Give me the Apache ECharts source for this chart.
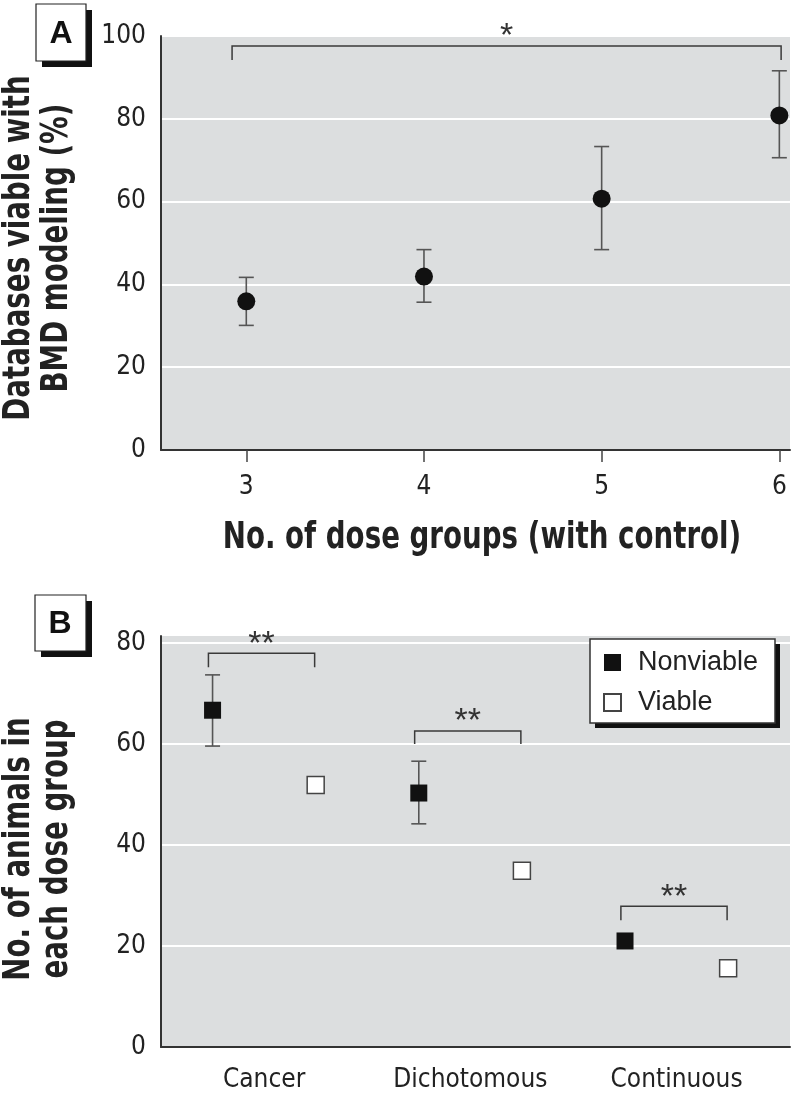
<!DOCTYPE html>
<html><head><meta charset="utf-8">
<script src="https://cdn.jsdelivr.net/npm/echarts@6/dist/echarts.min.js"></script>
<style>html,body{margin:0;padding:0;background:#fff}#c{width:800px;height:1097px}</style>
</head><body><div id="c"></div>
<script>
// ---------- Panel A data ----------
const doseGroups = [3, 4, 5, 6];
const viablePct = [35.9, 41.9, 60.7, 80.8];
const viablePctLow = [30.1, 35.7, 48.4, 70.6];
const viablePctHigh = [41.7, 48.4, 73.3, 91.6];
const aYTicks = [0, 20, 40, 60, 80, 100];
const aXTicks = [3, 4, 5, 6];
const sigA = [{ from: 2.92, to: 6.01, top: 97.6, leg: 94.2, mark: '*' }];
const titleAX = 'No. of dose groups (with control)';
const titleAY = 'Databases viable with\nBMD modeling (%)';

// ---------- Panel B data ----------
const endpointTypes = ['Cancer', 'Dichotomous', 'Continuous'];
const nonviableN = [66.7, 50.3, 21.0];
const nonviableLow = [59.6, 44.2, null];
const nonviableHigh = [73.7, 56.6, null];
const viableN = [51.9, 34.9, 15.6];
const bYTicks = [0, 20, 40, 60, 80];
const sigB = [
  { cat: 0, top: 78.0, leg: 75.2, mark: '**' },
  { cat: 1, top: 62.6, leg: 60.0, mark: '**' },
  { cat: 2, top: 27.9, leg: 25.1, mark: '**' }
];
const titleBY = 'No. of animals in\neach dose group';

// ---------- layout / style ----------
const NARROW = '"DejaVu Sans Condensed", "Liberation Sans Narrow", "Liberation Sans", sans-serif';
const REG = '"Liberation Sans", Arial, sans-serif';
const TXT = '#222';
const GREY = '#dcdedf';
const OFF = 0.25;                  // dodge of the two series within a category
const BR_L = -0.27, BR_R = 0.245;  // bracket ends relative to category
const TITLE_SCALE = 0.81;

const chart = echarts.init(document.getElementById('c'), null, { renderer: 'canvas' });

function errRender(params, api) {
  const x = api.value(0), lo = api.value(1), hi = api.value(2);
  if (lo == null || hi == null || isNaN(lo) || isNaN(hi)) return;
  const t = api.coord([x, hi]), b = api.coord([x, lo]);
  const w = 7.5;
  const st = { stroke: '#555', lineWidth: 1.6 };
  return { type: 'group', children: [
    { type: 'line', shape: { x1: t[0], y1: t[1], x2: b[0], y2: b[1] }, style: st },
    { type: 'line', shape: { x1: t[0] - w, y1: t[1], x2: t[0] + w, y2: t[1] }, style: st },
    { type: 'line', shape: { x1: b[0] - w, y1: b[1], x2: b[0] + w, y2: b[1] }, style: st }
  ]};
}
function bracketRender(params, api) {
  const x1 = api.value(0), x2 = api.value(1), top = api.value(2), leg = api.value(3);
  const mark = api.value(4);
  const a = api.coord([x1, leg]), b = api.coord([x1, top]), c = api.coord([x2, top]), d = api.coord([x2, leg]);
  return { type: 'group', children: [
    { type: 'polyline', shape: { points: [a, b, c, d] }, style: { stroke: '#3a3a3a', lineWidth: 1.5, fill: null } },
    { type: 'text', x: (b[0] + c[0]) / 2, y: b[1] - 9,
      style: { text: String(mark), fontSize: 34, fontFamily: REG, fill: '#333', align: 'center', verticalAlign: 'middle' } }
  ]};
}

function titleText(text, x, y, rotated) {
  return { type: 'text', x: x, y: y, rotation: rotated ? Math.PI / 2 : 0, scaleX: TITLE_SCALE,
    style: { text: text, fontSize: 38, lineHeight: 38, fontWeight: 'bold', fontFamily: NARROW, fill: TXT,
      align: 'center', verticalAlign: 'middle' } };
}

const option = {
  animation: false,
  backgroundColor: '#fff',
  grid: [
    { left: 161, top: 36, width: 629, height: 414, show: true, backgroundColor: GREY, borderWidth: 0, outerBoundsMode: 'none', containLabel: false },
    { left: 161, top: 636, width: 629, height: 411, show: true, backgroundColor: GREY, borderWidth: 0, outerBoundsMode: 'none', containLabel: false }
  ],
  xAxis: [
    { gridIndex: 0, type: 'value', min: 2.52, max: 6.06,
      axisLine: { show: true, onZero: false, lineStyle: { color: '#333', width: 2 } },
      axisTick: { show: true, length: 12, customValues: aXTicks, lineStyle: { color: '#444', width: 1.5 } },
      axisLabel: { customValues: aXTicks, fontSize: 26, fontFamily: NARROW, color: TXT, margin: 24 },
      splitLine: { show: false } },
    { gridIndex: 1, type: 'value', min: -0.5, max: 2.55,
      axisLine: { show: true, onZero: false, lineStyle: { color: '#333', width: 2 } },
      axisTick: { show: false, customValues: [0, 1, 2] },
      axisLabel: { customValues: [0, 1, 2], fontSize: 26, fontFamily: NARROW, color: TXT, margin: 20,
        formatter: v => endpointTypes[Math.round(v)] },
      splitLine: { show: false } }
  ],
  yAxis: [
    { gridIndex: 0, type: 'value', min: 0, max: 100, interval: 20,
      axisLine: { show: true, onZero: false, lineStyle: { color: '#333', width: 2 } },
      axisTick: { show: false },
      axisLabel: { fontSize: 26, fontFamily: NARROW, color: TXT, margin: 15 },
      splitLine: { show: true, lineStyle: { color: '#fff', width: 2 } } },
    { gridIndex: 1, type: 'value', min: 0, max: 81.4,
      axisLine: { show: true, onZero: false, lineStyle: { color: '#333', width: 2 } },
      axisTick: { show: false, customValues: bYTicks },
      axisLabel: { customValues: bYTicks, fontSize: 26, fontFamily: NARROW, color: TXT, margin: 15 },
      splitLine: { show: true, lineStyle: { color: '#fff', width: 2 } } }
  ],
  legend: {
    data: ['Nonviable', 'Viable'], orient: 'vertical', left: 590, top: 639, z: 10,
    backgroundColor: 'transparent', borderWidth: 0,
    padding: [10, 14, 8, 13], itemGap: 13, itemWidth: 17, itemHeight: 17,
    textStyle: { fontSize: 27, fontFamily: REG, color: TXT, padding: [0, 0, 0, 12] }
  },
  graphic: [
    // panel letters
    { type: 'rect', z: 1, shape: { x: 42, y: 10, width: 50, height: 57 }, style: { fill: '#111' } },
    { type: 'rect', z: 1, shape: { x: 36, y: 4, width: 50, height: 57 }, style: { fill: '#fff', stroke: '#222', lineWidth: 1.2 } },
    { type: 'text', z: 1, x: 61, y: 34, style: { text: 'A', fontSize: 32, fontWeight: 'bold', fontFamily: REG, fill: '#111', align: 'center', verticalAlign: 'middle' } },
    { type: 'rect', z: 1, shape: { x: 41, y: 601, width: 51, height: 56 }, style: { fill: '#111' } },
    { type: 'rect', z: 1, shape: { x: 35, y: 595, width: 51, height: 56 }, style: { fill: '#fff', stroke: '#222', lineWidth: 1.2 } },
    { type: 'text', z: 1, x: 60, y: 624, style: { text: 'B', fontSize: 32, fontWeight: 'bold', fontFamily: REG, fill: '#111', align: 'center', verticalAlign: 'middle' } },
    // legend frame with drop shadow
    { type: 'rect', z: 5, shape: { x: 595, y: 644, width: 185, height: 84 }, style: { fill: '#111' } },
    { type: 'rect', z: 5, shape: { x: 590, y: 639, width: 185, height: 84 }, style: { fill: '#fff', stroke: '#333', lineWidth: 1.5 } },
    // axis titles
    titleText(titleAX, 482, 538, false),
    titleText(titleAY, 38, 248, true),
    titleText(titleBY, 38, 849, true)
  ],
  series: [
    // Panel A
    { name: 'errA', type: 'custom', xAxisIndex: 0, yAxisIndex: 0, renderItem: errRender, z: 2,
      encode: { x: 0, y: [1, 2] },
      data: doseGroups.map((g, i) => [g, viablePctLow[i], viablePctHigh[i]]) },
    { name: 'Viable %', type: 'scatter', xAxisIndex: 0, yAxisIndex: 0, symbol: 'circle', symbolSize: 18, z: 3,
      itemStyle: { color: '#111', opacity: 1 },
      data: doseGroups.map((g, i) => [g, viablePct[i]]) },
    { name: 'sigA', type: 'custom', xAxisIndex: 0, yAxisIndex: 0, renderItem: bracketRender, z: 4, clip: false,
      encode: { x: [0, 1], y: [2, 3] },
      data: sigA.map(s => [s.from, s.to, s.top, s.leg, s.mark]) },
    // Panel B
    { name: 'errB', type: 'custom', xAxisIndex: 1, yAxisIndex: 1, renderItem: errRender, z: 2,
      encode: { x: 0, y: [1, 2] },
      data: endpointTypes.map((c, i) => [i - OFF, nonviableLow[i], nonviableHigh[i]]) },
    { name: 'Nonviable', type: 'scatter', xAxisIndex: 1, yAxisIndex: 1, symbol: 'rect', symbolSize: 17, z: 3,
      itemStyle: { color: '#111', opacity: 1 },
      data: endpointTypes.map((c, i) => [i - OFF, nonviableN[i]]) },
    { name: 'Viable', type: 'scatter', xAxisIndex: 1, yAxisIndex: 1, symbol: 'rect', symbolSize: 17, z: 3,
      itemStyle: { color: '#fff', borderColor: '#444', borderWidth: 1.5, opacity: 1 },
      data: endpointTypes.map((c, i) => [i + OFF, viableN[i]]) },
    { name: 'sigB', type: 'custom', xAxisIndex: 1, yAxisIndex: 1, renderItem: bracketRender, z: 4, clip: false,
      encode: { x: [0, 1], y: [2, 3] },
      data: sigB.map(s => [s.cat + BR_L, s.cat + BR_R, s.top, s.leg, s.mark]) }
  ]
};
chart.setOption(option);
</script>
</body></html>
